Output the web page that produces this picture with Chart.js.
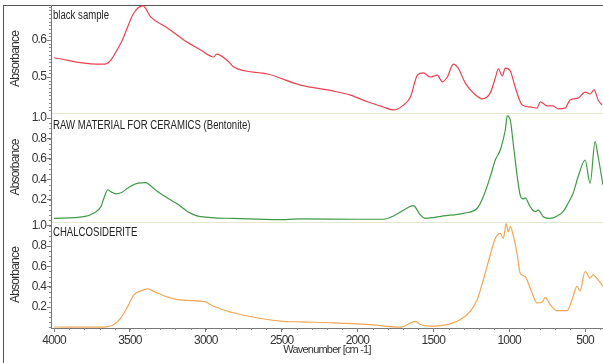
<!DOCTYPE html>
<html><head><meta charset="utf-8">
<script src="https://cdn.jsdelivr.net/npm/chart.js@4"></script>
<style>
html,body{margin:0;padding:0;background:#fff;}
#wrap{position:relative;width:603px;height:363px;overflow:hidden;background:#fff;}
canvas{position:absolute;left:0;top:0;}
.ln{position:absolute;}
.lbl{position:absolute;left:53px;font-family:'Liberation Sans',Arial,sans-serif;font-size:12px;line-height:14px;color:#222;white-space:nowrap;transform:scaleX(0.8);transform-origin:0 0;}
</style></head>
<body>
<div id="wrap">
  <div class="ln" style="left:3px;top:5px;width:600px;height:1px;background:#555"></div>
  <div class="ln" style="left:3px;top:5px;width:1px;height:358px;background:#555"></div>
  <div class="ln" style="left:51px;top:113px;width:552px;height:1px;background:#e6e6cc"></div>
  <div class="ln" style="left:51px;top:222px;width:552px;height:1px;background:#e6e6cc"></div>
  <canvas id="c1" width="603" height="363"></canvas>
  <canvas id="c2" width="603" height="363"></canvas>
  <canvas id="c3" width="603" height="363"></canvas>
  <div class="lbl" style="top:8px">black sample</div>
  <div class="lbl" style="top:118px">RAW MATERIAL FOR CERAMICS (Bentonite)</div>
  <div class="lbl" style="top:225px">CHALCOSIDERITE</div>
</div>
<script>
const xTicks = [4000,3500,3000,2500,2000,1500,1000,500];
const topTicks = [0.5,0.6];
const absTicks = [0.2,0.4,0.6,0.8,1.0];

const blackWn = [4000,3724,3664,3559,3474,3414,3362,3250,3145,3033,2947,2928,2849,2816,2592,2375,2158,2046,1934,1829,1763,1697,1651,1605,1566,1520,1474,1441,1408,1368,1336,1290,1237,1178,1125,1092,1072,1046,1026,993,961,914,862,816,796,750,711,678,632,599,546,500,467,441,414,388];
const blackAbs = [0.552,0.535,0.535,0.592,0.673,0.692,0.662,0.632,0.600,0.573,0.554,0.562,0.541,0.527,0.508,0.478,0.462,0.451,0.433,0.419,0.411,0.424,0.446,0.505,0.511,0.500,0.505,0.487,0.500,0.535,0.524,0.484,0.457,0.441,0.457,0.497,0.522,0.503,0.524,0.516,0.473,0.424,0.419,0.416,0.433,0.422,0.422,0.414,0.416,0.438,0.443,0.459,0.454,0.465,0.438,0.424];

const bentWn = [4000,3803,3737,3691,3671,3645,3625,3592,3559,3513,3447,3395,3362,3316,3250,3184,3118,3033,2816,2526,2375,2000,1829,1763,1697,1632,1586,1553,1434,1303,1211,1171,1125,1092,1059,1026,1013,993,974,947,928,908,895,862,829,809,776,730,684,645,612,579,546,500,467,434,414,382];
const bentAbs = [0.020,0.037,0.073,0.135,0.220,0.300,0.280,0.260,0.270,0.317,0.365,0.369,0.337,0.280,0.217,0.158,0.086,0.037,0.020,0.008,0.015,0.012,0.012,0.044,0.100,0.145,0.054,0.020,0.044,0.070,0.119,0.232,0.427,0.590,0.688,0.883,1.020,0.980,0.756,0.427,0.249,0.210,0.220,0.135,0.086,0.100,0.037,0.020,0.044,0.086,0.168,0.265,0.427,0.590,0.363,0.769,0.622,0.346];

const chalWn = [4000,3691,3605,3559,3513,3474,3428,3382,3342,3276,3184,3079,3013,2947,2855,2750,2638,2487,2375,2158,1934,1717,1618,1586,1520,1388,1322,1257,1211,1171,1125,1092,1059,1039,1020,1007,993,974,947,928,895,862,816,783,763,730,684,618,586,553,533,500,467,447,414,382];
const chalAbs = [0.005,0.003,0.030,0.095,0.210,0.320,0.360,0.380,0.354,0.312,0.273,0.263,0.257,0.208,0.159,0.120,0.088,0.061,0.055,0.046,0.030,0.003,0.061,0.030,0.013,0.036,0.078,0.159,0.273,0.468,0.712,0.875,0.924,0.875,1.020,0.940,0.990,0.907,0.712,0.534,0.500,0.387,0.241,0.250,0.296,0.224,0.166,0.166,0.273,0.403,0.360,0.550,0.485,0.517,0.468,0.403];

const FF = "'Liberation Sans',Arial,sans-serif";

const narrowPlugin = {
  id:'narrow',
  beforeUpdate(chart){ chart.ctx.letterSpacing = '-0.8px'; },
  beforeLayout(chart){ chart.ctx.letterSpacing = '-0.8px'; },
  beforeDraw(chart){ chart.ctx.letterSpacing = '-0.8px'; }
};

const minorPlugin = {
  id:'minor',
  afterDraw(chart, args, opts){
    const ctx = chart.ctx; ctx.save();
    ctx.strokeStyle = '#888'; ctx.lineWidth = 1;
    const ys = chart.scales.y;
    if (opts.yStep){
      for (let v = Math.ceil(ys.min/opts.yStep)*opts.yStep; v <= ys.max; v += opts.yStep){
        const p = Math.round(ys.getPixelForValue(v)) + 0.5;
        ctx.beginPath(); ctx.moveTo(ys.right-2, p); ctx.lineTo(ys.right, p); ctx.stroke();
      }
    }
    const xs = chart.scales.x;
    if (opts.xStep && xs.options.display){
      for (let v = Math.ceil(xs.min/opts.xStep)*opts.xStep; v <= xs.max; v += opts.xStep){
        const p = Math.round(xs.getPixelForValue(v)) + 0.5;
        ctx.beginPath(); ctx.moveTo(p, xs.top); ctx.lineTo(p, xs.top+2); ctx.stroke();
      }
    }
    ctx.restore();
  }
};

function panel(id, padTop, padBottom, wn, ab, color, yMin, yMax, yTicks, showX, yStep){
  return new Chart(document.getElementById(id), {
    type:'line',
    data:{datasets:[{data: wn.map((w,i)=>({x:w,y:ab[i]})), borderColor:color, borderWidth:1.2,
      pointRadius:0, cubicInterpolationMode:'monotone', fill:false}]},
    options:{
      responsive:false, animation:false, devicePixelRatio:1,
      layout:{padding:{top:padTop,bottom:padBottom,left:0,right:0}},
      plugins:{legend:{display:false}, tooltip:{enabled:false}, minor:{yStep:yStep, xStep:100}},
      scales:{
        x:{type:'linear', reverse:true, min:382, max:4020, display:showX,
          afterBuildTicks:s=>{s.ticks = xTicks.map(v=>({value:v}));},
          afterFit:s=>{ if (showX) s.height=35; s.paddingLeft=0; s.paddingRight=0;},
          grid:{drawOnChartArea:false, drawTicks:true, tickLength:4, color:'#777'},
          border:{display:true, color:'#777', width:1},
          ticks:{autoSkip:false, maxRotation:0, padding:1, color:'#333', font:{family:FF,size:12}, callback:v=>String(v)},
          title:{display:true, text:'Wavenumber [cm -1]', color:'#333', font:{family:FF,size:11}, padding:{top:0,bottom:6}}
        },
        y:{position:'left', min:yMin, max:yMax,
          afterBuildTicks:s=>{s.ticks = yTicks.map(v=>({value:v}));},
          afterFit:s=>{s.width=51; s.paddingTop=0; s.paddingBottom=0;},
          grid:{drawOnChartArea:false, drawTicks:true, tickLength:4, color:'#777'},
          border:{display:true, color:'#777', width:1},
          ticks:{padding:1, color:'#333', font:{family:FF,size:12}, callback:v=>v.toFixed(1)},
          title:{display:true, text:'Absorbance', color:'#333', font:{family:FF,size:12}, padding:{top:8,bottom:0}}
        }
      }
    },
    plugins:[narrowPlugin, minorPlugin]
  });
}

panel('c1', 5, 250, blackWn, blackAbs, '#e8434f', 0.4027, 0.6946, topTicks, false, 0.01);
panel('c2', 113, 141, bentWn, bentAbs, '#3f9a45', -0.015, 1.049, absTicks, false, 0.05);
panel('c3', 222, 0, chalWn, chalAbs, '#f2a654', -0.005, 1.036, absTicks, true, 0.05);
</script>
</body></html>
